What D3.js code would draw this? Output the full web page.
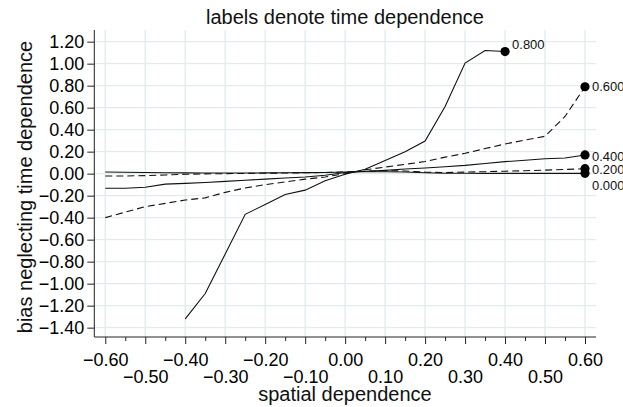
<!DOCTYPE html>
<html>
<head>
<meta charset="utf-8">
<script src="https://cdn.jsdelivr.net/npm/d3@7"></script>
<style>
  html, body { margin: 0; padding: 0; background: #ffffff; }
  svg { display: block; font-family: "Liberation Sans", Arial, Helvetica, sans-serif; }
</style>
</head>
<body>
<svg id="chart" width="623" height="407"></svg>
<script>
// ---- data ----
const spatial = [-0.60, -0.55, -0.50, -0.45, -0.40, -0.35, -0.30, -0.25, -0.20, -0.15, -0.10, -0.05, 0.00,
                  0.05, 0.10, 0.15, 0.20, 0.25, 0.30, 0.35, 0.40, 0.45, 0.50, 0.55, 0.60];
const timeLabels = ["0.000", "0.200", "0.400", "0.600", "0.800"];
const bias000 = [0.015, 0.013, 0.010, 0.008, 0.007, 0.006, 0.006, 0.006, 0.007, 0.008, 0.009, 0.011, 0.015,
                 0.018, 0.018, 0.015, 0.008, 0.004, 0.003, 0.003, 0.003, 0.003, 0.003, 0.003, 0.003];
const bias020 = [-0.022, -0.021, -0.018, -0.012, -0.006, -0.002, 0.000, 0.002, 0.004, 0.006, 0.008, 0.011, 0.015,
                 0.022, 0.027, 0.024, 0.014, 0.010, 0.014, 0.018, 0.022, 0.027, 0.032, 0.038, 0.045];
const bias040 = [-0.133, -0.133, -0.124, -0.095, -0.088, -0.080, -0.070, -0.060, -0.050, -0.040, -0.030, -0.015, 0.010,
                 0.022, 0.030, 0.042, 0.052, 0.063, 0.075, 0.092, 0.109, 0.122, 0.135, 0.142, 0.170];
const bias060 = [-0.400, -0.350, -0.300, -0.270, -0.240, -0.220, -0.170, -0.130, -0.100, -0.075, -0.050, -0.030, 0.000,
                 0.035, 0.060, 0.085, 0.110, 0.150, 0.185, 0.228, 0.270, 0.305, 0.340, 0.520, 0.790];
const bias080 = [null, null, null, null, -1.320, -1.090, -0.730, -0.370, -0.280, -0.190, -0.150, -0.065, -0.005,
                 0.040, 0.120, 0.200, 0.297, 0.610, 1.005, 1.120, 1.110, null, null, null, null];
const yTicks = [-1.40, -1.20, -1.00, -0.80, -0.60, -0.40, -0.20, 0.00, 0.20, 0.40, 0.60, 0.80, 1.00, 1.20];
const xTicksMajor = [-0.60, -0.50, -0.40, -0.30, -0.20, -0.10, 0.00, 0.10, 0.20, 0.30, 0.40, 0.50, 0.60];
const xTicksMinor = [-0.55, -0.45, -0.35, -0.25, -0.15, -0.05, 0.05, 0.15, 0.25, 0.35, 0.45, 0.55];

const seriesList = [
  { label: timeLabels[0], values: bias000, dash: null,  lx: 7,  ly: 12 },
  { label: timeLabels[1], values: bias020, dash: "7,4", lx: 7,  ly: 1 },
  { label: timeLabels[2], values: bias040, dash: null,  lx: 7,  ly: 1 },
  { label: timeLabels[3], values: bias060, dash: "7,4", lx: 7,  ly: 0 },
  { label: timeLabels[4], values: bias080, dash: null,  lx: 7,  ly: -7 }
];

// ---- layout ----
const svg = d3.select("#chart");
const pLeft = 94.3, pRight = 596, pTop = 30, pBottom = 337;

const x = d3.scaleLinear().domain([-0.6275, 0.6275]).range([pLeft, pRight]);
const y = d3.scaleLinear().domain([-1.485, 1.306]).range([pBottom, pTop]);

const fmt = d3.format(".2f");
const gridColor = "#e2ecee";
const fontFam = "Liberation Sans, Arial, sans-serif";

// grid
const grid = svg.append("g");
grid.selectAll("line.hg").data(yTicks).enter().append("line")
  .attr("x1", pLeft).attr("x2", pRight)
  .attr("y1", d => y(d)).attr("y2", d => y(d))
  .attr("stroke", gridColor).attr("stroke-width", 1.4);
grid.selectAll("line.vg").data(xTicksMajor).enter().append("line")
  .attr("x1", d => x(d)).attr("x2", d => x(d))
  .attr("y1", pTop).attr("y2", pBottom)
  .attr("stroke", gridColor).attr("stroke-width", 1.4);

// y axis
const yAxis = svg.append("g").attr("transform", `translate(${pLeft},0)`)
  .call(d3.axisLeft(y).tickValues(yTicks).tickFormat(fmt).tickSize(7).tickPadding(3));
yAxis.select(".domain").remove();
yAxis.append("line").attr("x1", 0).attr("x2", 0).attr("y1", pTop).attr("y2", pBottom)
  .attr("stroke", "#222").attr("stroke-width", 1);
yAxis.selectAll(".tick line").attr("stroke", "#222");
yAxis.selectAll(".tick text").attr("font-size", 18).attr("fill", "#000")
  .attr("font-family", fontFam);

// x axis
const xAxis = svg.append("g").attr("transform", `translate(0,${pBottom})`)
  .call(d3.axisBottom(x).tickValues(xTicksMajor).tickFormat(fmt).tickSize(7).tickPadding(4));
xAxis.select(".domain").remove();
xAxis.append("line").attr("x1", pLeft).attr("x2", pRight).attr("y1", 0).attr("y2", 0)
  .attr("stroke", "#222").attr("stroke-width", 1);
xAxis.selectAll(".tick line").attr("stroke", "#222");
xAxis.selectAll(".tick text")
  .attr("font-size", 18).attr("fill", "#000")
  .attr("font-family", fontFam)
  .attr("dy", null)
  .attr("y", (d, i) => i % 2 === 0 ? 29 : 46);
const xMinor = svg.append("g").attr("transform", `translate(0,${pBottom})`)
  .call(d3.axisBottom(x).tickValues(xTicksMinor).tickFormat("").tickSize(4));
xMinor.select(".domain").remove();
xMinor.selectAll(".tick line").attr("stroke", "#222");

// lines
const line = d3.line()
  .defined(d => d.v !== null)
  .x(d => x(d.s)).y(d => y(d.v));

const g = svg.append("g");
seriesList.forEach(ser => {
  const pts = spatial.map((s, i) => ({ s: s, v: ser.values[i] }));
  g.append("path").datum(pts)
    .attr("d", line)
    .attr("fill", "none")
    .attr("stroke", "#111")
    .attr("stroke-width", 1.1)
    .attr("stroke-dasharray", ser.dash);
  const valid = pts.filter(p => p.v !== null);
  const last = valid[valid.length - 1];
  g.append("circle").attr("cx", x(last.s)).attr("cy", y(last.v)).attr("r", 4.6).attr("fill", "#000");
  g.append("text").attr("x", x(last.s) + ser.lx).attr("y", y(last.v) + ser.ly)
    .attr("dy", "0.36em").attr("font-size", 13).attr("fill", "#111").text(ser.label);
});

// titles
svg.append("text").attr("x", 345).attr("y", 24).attr("text-anchor", "middle")
  .attr("font-size", 20).attr("fill", "#111").text("labels denote time dependence");
svg.append("text").attr("x", 345).attr("y", 401).attr("text-anchor", "middle")
  .attr("font-size", 20).attr("fill", "#111").text("spatial dependence");
svg.append("text").attr("transform", "translate(32,187) rotate(-90)").attr("text-anchor", "middle")
  .attr("font-size", 20).attr("fill", "#111").text("bias neglecting time dependence");
</script>
</body>
</html>
